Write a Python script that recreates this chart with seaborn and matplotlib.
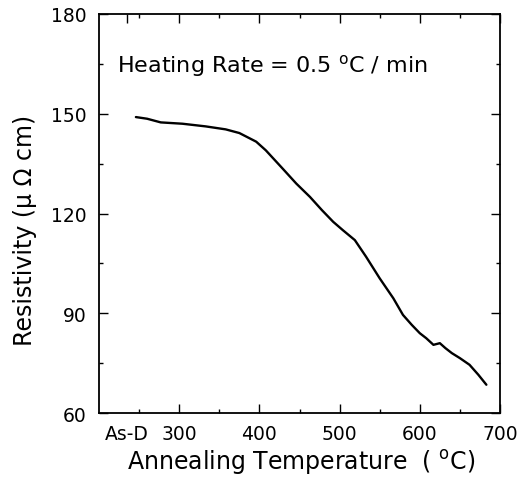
import matplotlib
matplotlib.use("Agg")
import matplotlib.pyplot as plt
import seaborn as sns
import pandas as pd
from matplotlib.ticker import MultipleLocator, FixedLocator

temperature = [246, 260, 277, 304, 333, 358, 375, 396, 408, 429, 446, 463, 478,
               492, 504, 519, 533, 550, 567, 579, 590, 600, 608, 617, 625, 632,
               640, 650, 662, 673, 683]
resistivity = [149.0, 148.5, 147.4, 147.0, 146.2, 145.3, 144.2, 141.6, 139.0,
               133.5, 129.0, 125.0, 121.0, 117.5, 115.0, 112.0, 107.0, 100.5,
               94.5, 89.5, 86.5, 84.0, 82.5, 80.5, 81.0, 79.5, 78.0, 76.5, 74.5,
               71.5, 68.5]
x_ticks = [235, 300, 400, 500, 600, 700]
x_tick_labels = ["As-D", "300", "400", "500", "600", "700"]
y_ticks = [60, 90, 120, 150, 180]

sns.set_theme(style="ticks")
plt.rcParams["font.family"] = ["DejaVu Sans"]
plt.rcParams["mathtext.fontset"] = "custom"
plt.rcParams["mathtext.rm"] = "DejaVu Sans"
plt.rcParams["text.color"] = "black"
plt.rcParams["axes.labelcolor"] = "black"

df = pd.DataFrame({"T": temperature, "R": resistivity})

fig = plt.figure(figsize=(5.27, 4.81), dpi=100)
ax = fig.add_axes([99 / 527, 1 - 414 / 481, 401 / 527, 399 / 481])
sns.lineplot(data=df, x="T", y="R", color="black", linewidth=1.7, ax=ax)

ax.set_xlim(200, 700)
ax.set_ylim(60, 180)
ax.xaxis.set_major_locator(FixedLocator(x_ticks))
ax.set_xticklabels(x_tick_labels)
ax.xaxis.set_minor_locator(FixedLocator([250, 350, 450, 550, 650]))
ax.set_yticks(y_ticks)
ax.yaxis.set_minor_locator(MultipleLocator(15))
ax.xaxis.get_major_ticks()[0].tick1line.set_visible(False)
ax.xaxis.get_major_ticks()[0].tick2line.set_visible(False)

ax.tick_params(which="both", direction="in", top=True, right=True,
               colors="black", labelcolor="black", labelsize=13.5, width=1.0)
ax.tick_params(which="major", length=6.5)
ax.tick_params(axis="x", which="major", pad=8)
ax.tick_params(axis="y", which="major", pad=9)
ax.tick_params(which="minor", length=3)
for s in ax.spines.values():
    s.set_linewidth(1.3)
    s.set_color("black")

ax.set_xlabel(r"Annealing Temperature  ( $^{\rm o}$C)", fontsize=17, color="black")
ax.xaxis.set_label_coords(0.505, -0.085)
ax.set_ylabel("Resistivity (μ Ω cm)", fontsize=17, color="black")
ax.yaxis.set_label_coords(-0.155, 0.46)
ax.text(0.045, 0.857, r"Heating Rate = 0.5 $^{\rm o}$C / min", transform=ax.transAxes,
        fontsize=16, ha="left", va="baseline", color="black")

fig.savefig("out.png", dpi=100)
